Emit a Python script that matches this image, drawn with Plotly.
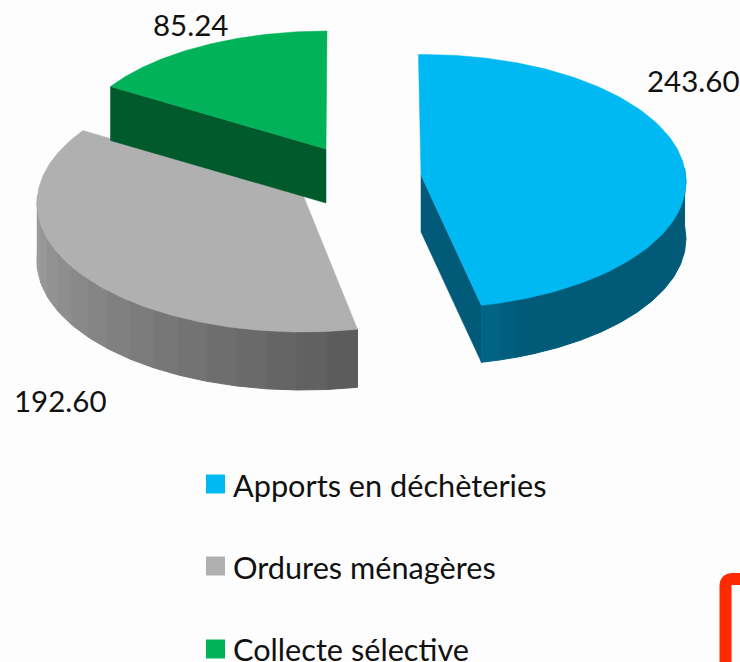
import math
import plotly.graph_objects as go

categories = ["Apports en déchèteries", "Ordures ménagères", "Collecte sélective"]
values = [243.60, 192.60, 85.24]
value_labels = ["243.60", "192.60", "85.24"]
top_colors = ["#00B9F2", "#B0B0B0", "#00B25A"]

# Projection of each exploded slice: rim ellipse centre, radii, apex, depth,
# and the perspective angle offset (deg) at the start and end of the slice
ell = [
    dict(cx=423, cy=181.5, a=263, b=127, ax=421, ay=175, d=57, rot0=-1, rot1=-1),
    dict(cx=303, cy=203, a=266, b=129, ax=303, ay=195, d=58, rot0=0, rot1=3),
    dict(cx=327, cy=146, a=253, b=115, ax=326, ay=149, d=54, rot0=0, rot1=0),
]
label_pos = [(693, 80), (60, 400), (190, 24)]
legend_marker_x = 215.5
legend_text_x = 233
legend_marker_y = [484, 566, 649]
legend_text_y = [489, 571, 653]
FONT = "Lato"

total = sum(values)
spans = []
start = 0.0
for v in values:
    spans.append((start, start + v / total * 360))
    start += v / total * 360
for e, s in zip(ell, spans):
    e["span"] = s


def rim(e, t):
    s0, s1 = e["span"]
    off = e["rot0"] + (e["rot1"] - e["rot0"]) * (t - s0) / (s1 - s0)
    r = math.radians(t + off)
    return e["cx"] + e["a"] * math.sin(r), e["cy"] - e["b"] * math.cos(r)


def sweep(t0, t1, n=60):
    return [t0 + (t1 - t0) * i / n for i in range(n + 1)]


def poly(fig, xs, ys, color, lw=0.5):
    fig.add_trace(go.Scatter(
        x=xs + xs[:1], y=ys + ys[:1], mode="lines", fill="toself",
        fillcolor=color, line=dict(color=color, width=lw),
        hoverinfo="skip", showlegend=False))


def mix(c0, c1, f):
    return "rgb(%d,%d,%d)" % tuple(round(a + (b - a) * f) for a, b in zip(c0, c1))


def wall(fig, e, t0, t1, c0, c1, step):
    n = max(1, round(abs(t1 - t0) / step))
    for i in range(n):
        a = t0 + (t1 - t0) * i / n
        b = t0 + (t1 - t0) * (i + 1) / n
        pts = [rim(e, t) for t in sweep(a, b, 12)]
        xs = [p[0] for p in pts] + [p[0] for p in pts[::-1]]
        ys = [p[1] for p in pts] + [p[1] + e["d"] for p in pts[::-1]]
        poly(fig, xs, ys, mix(c0, c1, i / max(1, n - 1)), lw=1)


def cut(fig, e, t, color):
    x, y = rim(e, t)
    poly(fig, [e["ax"], x, x, e["ax"]], [e["ay"], y, y + e["d"], e["ay"] + e["d"]], color)


def top(fig, e, t0, t1, color):
    pts = [rim(e, t) for t in sweep(t0, t1, 120)]
    poly(fig, [e["ax"]] + [p[0] for p in pts], [e["ay"]] + [p[1] for p in pts], color)


fig = go.Figure()

# Grey slice
e = ell[1]; t0, t1 = spans[1]
wall(fig, e, t1 - 30, t0, (160, 160, 160), (92, 92, 92), 6.5)
top(fig, e, t0, t1, top_colors[1])

# Green slice
e = ell[2]; t0, t1 = spans[2]
cut(fig, e, t0, "#005A2B")
top(fig, e, t0, t1, top_colors[2])

# Blue slice
e = ell[0]; t0, t1 = spans[0]
cut(fig, e, t1, "#005A78")
wall(fig, e, 85, t1 - 12, (0, 90, 120), (0, 90, 120), 80)
wall(fig, e, t1 - 12, t1, (0, 90, 120), (0, 100, 132), 4)
top(fig, e, t0, t1, top_colors[0])

# Key: squares and their labels
fig.add_trace(go.Scatter(
    x=[legend_marker_x] * 3, y=legend_marker_y, mode="markers", hoverinfo="skip",
    marker=dict(symbol="square", size=19, color=top_colors, line=dict(width=0)),
    showlegend=False))
fig.add_trace(go.Scatter(
    x=[legend_text_x] * 3, y=legend_text_y, mode="text", text=categories,
    textposition="middle right", hoverinfo="skip", cliponaxis=False,
    textfont=dict(family=FONT, size=30.7, color="#111111"), showlegend=False))

annotations = [
    dict(x=p[0], y=p[1], text=t, showarrow=False, xref="x", yref="y",
         font=dict(family=FONT, size=29.5, color="#111111"))
    for p, t in zip(label_pos, value_labels)
]

fig.update_layout(
    width=740, height=662, margin=dict(l=0, r=0, t=0, b=0),
    paper_bgcolor="#FDFDFD", plot_bgcolor="#FDFDFD",
    xaxis=dict(range=[0, 740], visible=False, fixedrange=True),
    yaxis=dict(range=[662, 0], visible=False, fixedrange=True),
    annotations=annotations, showlegend=False,
    shapes=[dict(type="path", path="M725.5,720 L725.5,586 Q725.5,579 732.5,579 L790,579",
                 xref="x", yref="y", line=dict(color="#FF2A00", width=12))],
)
fig.write_html("out.html", config=dict(displayModeBar=False),
               post_script="document.body.style.margin='0';")
